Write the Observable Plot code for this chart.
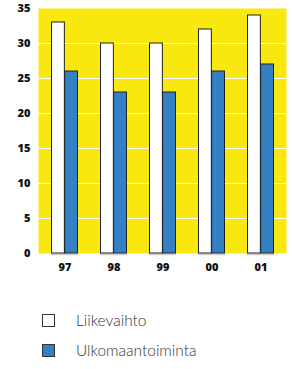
<!DOCTYPE html>
<html><head><meta charset="utf-8">
<script src="https://cdn.jsdelivr.net/npm/d3@7"></script>
<script src="https://cdn.jsdelivr.net/npm/@observablehq/plot@0.6"></script>
<style>
body{margin:0;background:#fff;font-family:Lato,"Open Sans",sans-serif;}
#chart{width:292px;}
#chart svg{display:block;}
.legend{margin-left:42px;margin-top:20px;color:#333;font-size:15.5px;font-weight:300;}
.legend .item{display:flex;align-items:center;height:30px;}
.legend .sw{width:13px;height:13px;border:1px solid #333;box-sizing:border-box;margin-right:21px;}
</style></head>
<body><div id="chart"></div>
<script>
const years = ["97","98","99","00","01"];
const seriesNames = ["Liikevaihto","Ulkomaantoiminta"];
const liikevaihto = [33,30,30,32,34];
const ulkomaan = [26,23,23,26,27];
const yTicks = [0,5,10,15,20,25,30,35];
const colors = ["#ffffff","#3380c4"];

const dataA = years.map((y,i)=>({year:y, value:liikevaihto[i]}));
const dataB = years.map((y,i)=>({year:y, value:ulkomaan[i]}));

const W = 292, ML = 38, MR = 6;
const step = (W-ML-MR)/years.length;
const half = step*0.55/2;

const plot = Plot.plot({
  width:W, height:285,
  marginLeft:ML, marginRight:MR, marginTop:8, marginBottom:32,
  style:{fontFamily:"'Open Sans',sans-serif", fontSize:"11px", fontWeight:"800", color:"#111"},
  x:{domain:years, paddingInner:0.45, paddingOuter:0.225, label:null},
  y:{domain:[0,35], label:null},
  marks:[
    Plot.frame({fill:"#f9e810", stroke:null}),
    Plot.ruleY(yTicks.slice(1,-1), {stroke:"white", strokeWidth:1}),
    Plot.axisY({ticks:yTicks, tickSize:0, tickPadding:8, label:null}),
    Plot.axisX({tickSize:0, tickPadding:10, label:null}),
    Plot.tickY(years, {x:d=>d, y:()=>0, stroke:"#ccc", strokeWidth:1.5, dy:1}),
    Plot.barY(dataA, {x:"year", y:"value", fill:colors[0], stroke:"#222", strokeWidth:1, insetRight:half, insetLeft:0.5}),
    Plot.barY(dataB, {x:"year", y:"value", fill:colors[1], stroke:"#222", strokeWidth:1, insetLeft:half, insetRight:0.5})
  ]
});
document.getElementById("chart").appendChild(plot);

const leg = document.createElement("div");
leg.className="legend";
seriesNames.forEach((s,i)=>{
  const it=document.createElement("div");it.className="item";
  const sw=document.createElement("span");sw.className="sw";sw.style.background=colors[i];
  const t=document.createElement("span");t.textContent=s;
  it.appendChild(sw);it.appendChild(t);leg.appendChild(it);
});
document.getElementById("chart").appendChild(leg);
</script></body></html>
